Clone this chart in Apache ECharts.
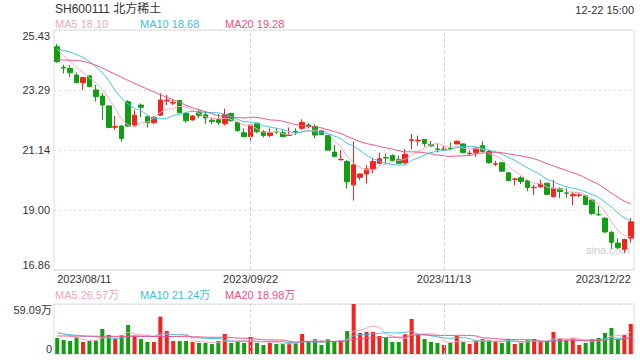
<!DOCTYPE html>
<html>
<head>
<meta charset="utf-8">
<script src="https://cdn.jsdelivr.net/npm/echarts@6/dist/echarts.min.js"></script>
<style>
html,body{margin:0;padding:0;background:#fff;}
#chart{width:640px;height:360px;}
</style>
</head>
<body>
<div id="chart"></div>
<script>
// ---------------- data ----------------
const TITLE = 'SH600111 北方稀土';
const TIME_TEXT = '12-22 15:00';
const WATERMARK = 'sina.com';

const DATES = [
'2023/08/11','2023/08/14','2023/08/15','2023/08/16','2023/08/17','2023/08/18','2023/08/21','2023/08/22','2023/08/23','2023/08/24',
'2023/08/25','2023/08/28','2023/08/29','2023/08/30','2023/08/31','2023/09/01','2023/09/04','2023/09/05','2023/09/06','2023/09/07',
'2023/09/08','2023/09/11','2023/09/12','2023/09/13','2023/09/14','2023/09/15','2023/09/18','2023/09/19','2023/09/20','2023/09/21',
'2023/09/22','2023/09/25','2023/09/26','2023/09/27','2023/09/28','2023/10/09','2023/10/10','2023/10/11','2023/10/12','2023/10/13',
'2023/10/16','2023/10/17','2023/10/18','2023/10/19','2023/10/20','2023/10/23','2023/10/24','2023/10/25','2023/10/26','2023/10/27',
'2023/10/30','2023/10/31','2023/11/01','2023/11/02','2023/11/03','2023/11/06','2023/11/07','2023/11/08','2023/11/09','2023/11/10',
'2023/11/13','2023/11/14','2023/11/15','2023/11/16','2023/11/17','2023/11/20','2023/11/21','2023/11/22','2023/11/23','2023/11/24',
'2023/11/27','2023/11/28','2023/11/29','2023/11/30','2023/12/01','2023/12/04','2023/12/05','2023/12/06','2023/12/07','2023/12/08',
'2023/12/11','2023/12/12','2023/12/13','2023/12/14','2023/12/15','2023/12/18','2023/12/19','2023/12/20','2023/12/21','2023/12/22'
];

const OPEN = [
24.83,24.10,24.06,23.82,23.55,23.79,23.29,23.07,22.72,21.96,
22.00,22.87,22.04,22.75,22.33,22.12,22.39,22.90,22.82,22.91,
22.45,22.22,22.48,22.40,22.21,22.23,22.08,22.45,22.13,21.76,
21.62,22.10,21.80,21.66,21.80,21.76,21.67,21.81,21.92,22.04,
21.98,21.83,21.66,21.07,20.80,20.73,19.90,20.17,20.29,20.47,
20.67,20.87,20.95,20.80,20.69,21.49,21.47,21.52,21.34,21.18,
21.17,21.21,21.36,21.36,21.02,21.06,21.30,21.09,20.64,20.69,
20.33,20.10,20.15,20.05,19.80,19.83,19.96,19.48,19.76,19.61,
19.51,19.53,19.51,19.36,18.85,18.71,18.20,17.82,17.60,18.00
];
const CLOSE = [
24.30,24.07,23.91,23.55,23.73,23.41,23.05,22.75,21.95,21.98,
21.56,22.00,22.39,22.67,22.12,22.31,22.93,22.93,22.84,22.48,
22.19,22.36,22.38,22.29,22.16,22.13,22.41,22.19,21.84,21.62,
22.04,21.80,21.66,21.76,21.79,21.62,21.68,21.79,22.13,21.98,
21.68,21.70,21.14,20.91,20.81,20.01,20.61,20.29,20.47,20.73,
20.83,20.86,20.77,20.67,20.99,21.51,21.49,21.38,21.29,21.17,
21.18,21.20,21.46,21.06,21.03,21.21,21.09,20.69,20.65,20.39,
20.05,20.11,20.02,19.81,19.81,19.93,19.56,19.78,19.66,19.60,
19.56,19.54,19.20,18.87,18.83,18.22,17.85,17.66,17.95,18.58
];
const LOW = [
24.26,23.88,23.74,23.53,23.29,23.38,22.87,22.22,21.92,21.86,
21.44,21.98,21.98,22.31,21.95,22.07,22.36,22.75,22.75,22.45,
22.12,22.19,22.28,22.08,22.07,22.04,22.02,22.16,21.80,21.62,
21.48,21.74,21.60,21.60,21.72,21.60,21.66,21.68,21.86,21.92,
21.56,21.68,21.14,20.91,20.76,19.77,19.34,20.07,19.95,20.31,
20.64,20.68,20.75,20.65,20.63,21.18,21.30,21.26,21.26,21.06,
21.12,21.14,21.36,21.02,20.93,20.90,21.06,20.66,20.57,20.36,
20.03,19.88,19.93,19.68,19.54,19.80,19.54,19.44,19.42,19.44,
19.17,19.45,19.17,18.83,18.79,18.18,17.62,17.60,17.47,17.84
];
const HIGH = [
24.93,24.19,24.18,23.91,23.76,23.82,23.47,23.17,22.72,22.36,
22.04,22.93,22.57,22.81,22.39,22.36,23.17,23.11,22.93,22.93,
22.51,22.39,22.60,22.51,22.31,22.43,22.62,22.48,22.16,21.92,
22.10,22.12,21.86,21.92,21.92,21.86,21.95,21.92,22.24,22.10,
22.06,21.86,21.68,21.32,21.14,20.79,21.45,20.30,20.61,20.85,
21.05,21.02,20.99,20.95,21.18,21.72,21.66,21.52,21.46,21.36,
21.30,21.42,21.48,21.38,21.12,21.26,21.46,21.14,20.75,20.72,
20.36,20.15,20.21,20.08,19.90,20.08,19.96,20.08,19.81,19.78,
19.66,19.60,19.53,19.40,19.15,18.75,18.26,17.98,17.98,18.71
];
// volume in 万 (10k shares)
const VOLUME = [
18.9,16.6,15.4,20.1,14.2,15.4,15.8,29.6,22.5,17.7,
22.5,34.3,21.7,17.7,14.2,14.2,44.1,27.2,15.4,15.4,
15.4,14.2,13.0,13.0,11.8,15.4,23.7,13.0,14.2,13.0,
20.1,13.0,10.7,13.0,11.8,11.8,13.0,13.0,23.7,14.2,
17.7,10.7,17.7,14.6,16.2,27.2,59.09,24.8,26.0,26.0,
21.3,19.7,14.2,14.2,23.3,41.4,23.3,17.7,14.2,13.0,
10.7,13.4,21.3,14.2,11.8,15.8,17.7,16.2,14.2,13.0,
17.7,11.8,13.0,16.2,17.7,14.2,15.4,26.0,18.5,16.2,
18.5,10.7,13.0,17.7,18.9,24.8,30.7,17.0,22.5,35.5
];

// moving-average values before the window is complete
const MA5_HEAD  = [24.74,24.52,24.30,24.10];
const MA10_HEAD = [24.75,24.70,24.64,24.55,24.45,24.30,24.12,23.90,23.62];
const MA20_HEAD = [24.36,24.36,24.35,24.34,24.31,24.25,24.17,24.07,23.96,23.85,23.74,23.63,23.52,23.42,23.32,23.22,23.12,23.03,22.94];
const VMA5_HEAD  = [26.4,24.0,21.5,19.5];
const VMA10_HEAD = [24.4,23.6,22.8,22.0,21.4,20.8,20.2,19.6,19.1];
const VMA20_HEAD = [21.3,21.3,21.2,21.2,21.1,21.1,21.0,21.0,20.9,20.9,20.9,20.8,20.8,20.8,20.8,20.7,20.7,20.7,20.7];

const PRICE_TICKS = [16.86, 19.00, 21.14, 23.29, 25.43];
const VOLUME_TICKS = [0, 59.09];
const LABEL_INDEXES = [0, 30, 60, 89];
const GRID_LINE_INDEXES = [30, 60];
const MA_NAMES = ['MA5', 'MA10', 'MA20'];
const PRICE_MA_LEGEND = ['18.10', '18.68', '19.28'];
const VOLUME_MA_LEGEND = ['26.57万', '21.24万', '18.98万'];

// ---------------- styling ----------------
const FONT = "'Liberation Sans', Arial, 'Noto Sans CJK SC', sans-serif";
const UP = '#f5221d', DOWN = '#0f9f10';
const MA_COLORS = ['#f6a5c1', '#38c2df', '#ee4e86'];
const GRID_COLOR = '#dcdcdc';

function movingAverage(values, n, head) {
  const out = [];
  for (let i = 0; i < values.length; i++) {
    if (i < n - 1) { out.push(head[i]); continue; }
    let s = 0;
    for (let j = i - n + 1; j <= i; j++) s += values[j];
    out.push(+(s / n).toFixed(3));
  }
  return out;
}

const candleData = OPEN.map((o, i) => [o, CLOSE[i], LOW[i], HIGH[i]]);
const volData = VOLUME.map((v, i) => ({
  value: v,
  itemStyle: { color: CLOSE[i] >= OPEN[i] ? UP : DOWN }
}));
const priceMA = [
  movingAverage(CLOSE, 5, MA5_HEAD),
  movingAverage(CLOSE, 10, MA10_HEAD),
  movingAverage(CLOSE, 20, MA20_HEAD)
];
const volMA = [
  movingAverage(VOLUME, 5, VMA5_HEAD),
  movingAverage(VOLUME, 10, VMA10_HEAD),
  movingAverage(VOLUME, 20, VMA20_HEAD)
];

function nearest(ticks, v) {
  let best = ticks[0];
  ticks.forEach(t => { if (Math.abs(t - v) < Math.abs(best - v)) best = t; });
  return best;
}

const vLines = {
  silent: true,
  symbol: ['none', 'none'],
  label: { show: false },
  lineStyle: { color: '#cfcfcf', type: [3, 3], width: 1 },
  data: GRID_LINE_INDEXES.map(i => ({ xAxis: DATES[i] }))
};

const legendX = [55, 140, 225];
const graphics = [
  { type: 'text', left: 55, top: 3, style: { text: TITLE, font: '12px ' + FONT, fill: '#333' } },
  { type: 'text', right: 6, top: 4, style: { text: TIME_TEXT, font: '11px ' + FONT, fill: '#333' } },
  { type: 'text', left: 586, top: 244, style: { text: WATERMARK, font: '11px ' + FONT, fill: '#cccccc' } }
];
MA_NAMES.forEach((n, k) => {
  graphics.push({ type: 'text', left: legendX[k], top: 18,
    style: { text: n + ' ' + PRICE_MA_LEGEND[k], font: '11px ' + FONT, fill: MA_COLORS[k] } });
  graphics.push({ type: 'text', left: legendX[k], top: 289,
    style: { text: n + ' ' + VOLUME_MA_LEGEND[k], font: '11px ' + FONT, fill: MA_COLORS[k] } });
});

const chart = echarts.init(document.getElementById('chart'), null, { renderer: 'svg' });

const option = {
  animation: false,
  backgroundColor: '#fff',
  textStyle: { fontFamily: FONT },
  graphic: graphics,
  grid: [
    { left: 54, right: 6, top: 30, height: 240, show: true, borderColor: GRID_COLOR, borderWidth: 1, containLabel: false },
    { left: 54, right: 6, top: 304, height: 50, show: true, borderColor: GRID_COLOR, borderWidth: 1, containLabel: false }
  ],
  xAxis: [
    {
      type: 'category', gridIndex: 0, data: DATES, boundaryGap: true,
      axisLine: { show: false }, axisTick: { show: false }, splitLine: { show: false },
      axisLabel: {
        show: true, fontSize: 11, color: '#333', margin: 3, fontFamily: FONT,
        interval: (idx) => LABEL_INDEXES.includes(idx),
        alignMinLabel: 'left', alignMaxLabel: 'right',
        showMinLabel: true, showMaxLabel: true, hideOverlap: false
      }
    },
    {
      type: 'category', gridIndex: 1, data: DATES, boundaryGap: true,
      axisLine: { show: false }, axisTick: { show: false }, axisLabel: { show: false }, splitLine: { show: false }
    }
  ],
  yAxis: [
    {
      type: 'value', gridIndex: 0, scale: true,
      min: PRICE_TICKS[0], max: PRICE_TICKS[PRICE_TICKS.length - 1],
      interval: (PRICE_TICKS[PRICE_TICKS.length - 1] - PRICE_TICKS[0]) / (PRICE_TICKS.length - 1),
      axisLine: { show: false }, axisTick: { show: false },
      splitLine: { show: true, lineStyle: { color: GRID_COLOR, type: [2, 3], width: 1 } },
      axisLabel: {
        fontSize: 11, color: '#333', margin: 4, fontFamily: FONT,
        formatter: (v) => nearest(PRICE_TICKS, v).toFixed(2),
        verticalAlignMinLabel: 'bottom', verticalAlignMaxLabel: 'top'
      }
    },
    {
      type: 'value', gridIndex: 1,
      min: VOLUME_TICKS[0], max: VOLUME_TICKS[1], interval: VOLUME_TICKS[1],
      axisLine: { show: false }, axisTick: { show: false },
      splitLine: { show: true, lineStyle: { color: GRID_COLOR, type: [2, 3], width: 1 } },
      axisLabel: {
        fontSize: 11, color: '#333', margin: 2, fontFamily: FONT,
        formatter: (v) => { const t = nearest(VOLUME_TICKS, v); return t === 0 ? '0' : t.toFixed(2) + '万'; },
        verticalAlignMinLabel: 'bottom', verticalAlignMaxLabel: 'top'
      }
    }
  ],
  series: [
    {
      name: 'K', type: 'candlestick', xAxisIndex: 0, yAxisIndex: 0, data: candleData,
      barWidth: 5,
      itemStyle: { color: UP, color0: DOWN, borderColor: UP, borderColor0: DOWN, borderWidth: 1 },
      markLine: vLines
    },
    ...MA_NAMES.map((n, k) => ({
      name: n, type: 'line', xAxisIndex: 0, yAxisIndex: 0, data: priceMA[k],
      symbol: 'none', smooth: true, lineStyle: { color: MA_COLORS[k], width: 1 }, z: 3
    })),
    {
      name: 'VOL', type: 'bar', xAxisIndex: 1, yAxisIndex: 1, data: volData,
      barWidth: 4, markLine: vLines
    },
    ...MA_NAMES.map((n, k) => ({
      name: 'V' + n, type: 'line', xAxisIndex: 1, yAxisIndex: 1, data: volMA[k],
      symbol: 'none', smooth: true, lineStyle: { color: MA_COLORS[k], width: 1 }, z: 3
    }))
  ]
};
chart.setOption(option);
</script>
</body>
</html>
